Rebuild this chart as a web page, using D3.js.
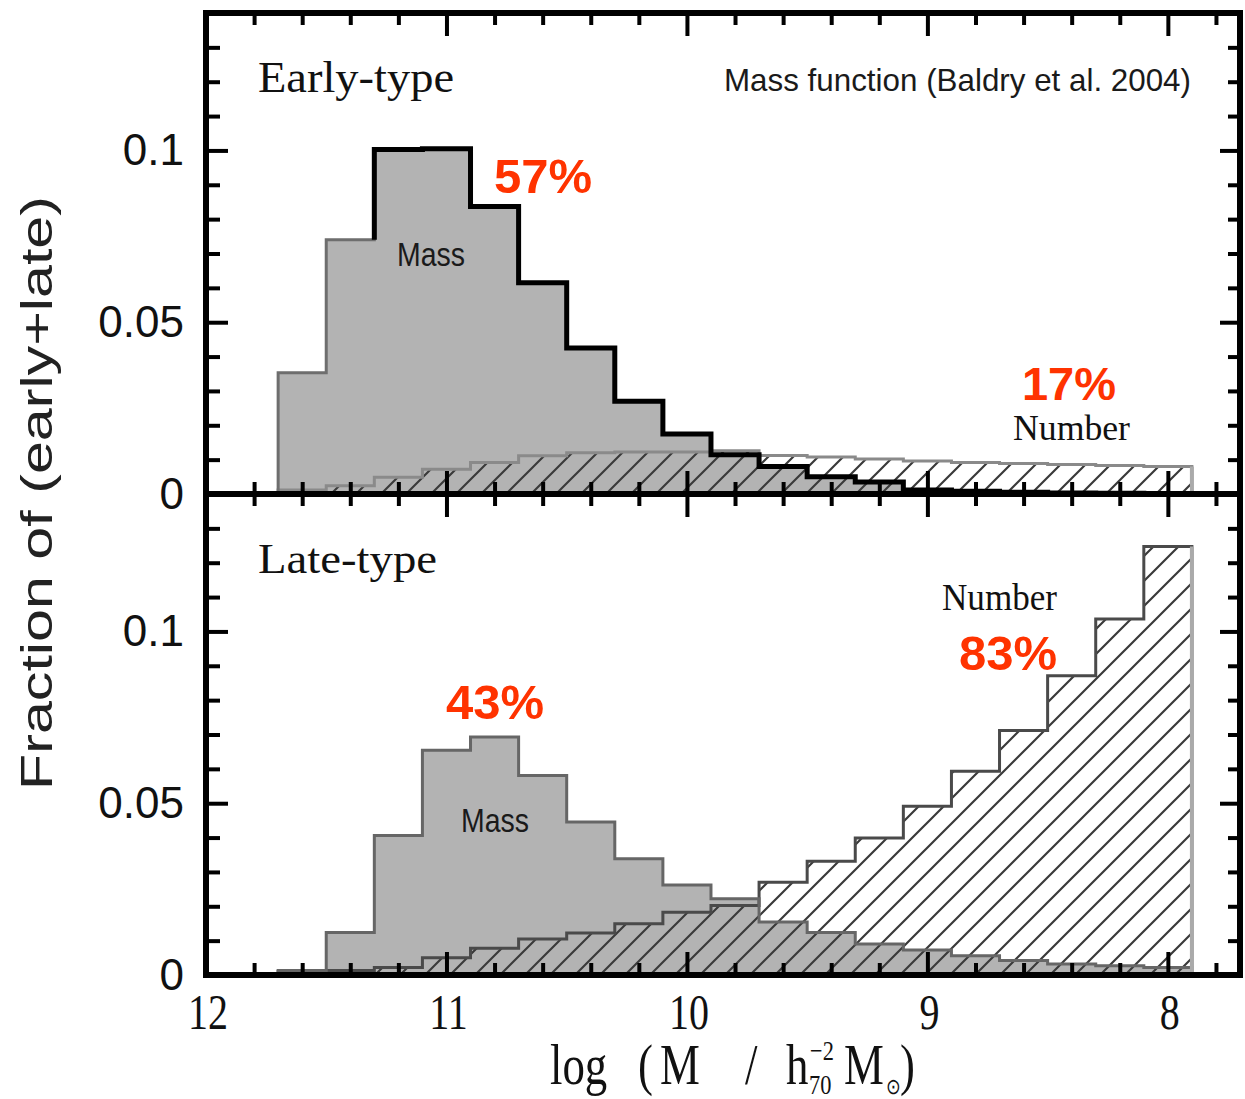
<!DOCTYPE html>
<html>
<head>
<meta charset="utf-8">
<script src="https://cdn.jsdelivr.net/npm/d3@7"></script>
<style>
  body { margin: 0; background: #fff; }
</style>
</head>
<body>
<div id="chart"></div>
<script>
// Bin centres in log M (bins are 0.2 dex wide)
const binCenters = [11.6, 11.4, 11.2, 11.0, 10.8, 10.6, 10.4, 10.2, 10.0, 9.8,
                    9.6, 9.4, 9.2, 9.0, 8.8, 8.6, 8.4, 8.2, 8.0];
const binWidth = 0.2;

// Fractions of (early+late)
const earlyMass = [0.0353, 0.0740, 0.1003, 0.1005, 0.0837, 0.0615, 0.0425, 0.0270, 0.0175, 0.0114,
                   0.0080, 0.0050, 0.0035, 0.0012, 0.0008, 0.0005, 0.0003, 0.0002, 0.0001];
const earlyNumber = [0.0012, 0.0024, 0.0049, 0.0072, 0.0092, 0.0111, 0.0120, 0.0122, 0.0122, 0.0126,
                     0.0112, 0.0108, 0.0102, 0.0096, 0.0092, 0.0089, 0.0086, 0.0083, 0.0080];
const lateMass = [0.0013, 0.0124, 0.0406, 0.0654, 0.0693, 0.0581, 0.0445, 0.0338, 0.0262, 0.0222,
                  0.0154, 0.0124, 0.0090, 0.0073, 0.0056, 0.0042, 0.0032, 0.0027, 0.0022];
const lateNumber = [0.0010, 0.0013, 0.0022, 0.0050, 0.0078, 0.0105, 0.0122, 0.0149, 0.0183, 0.0202,
                    0.0270, 0.0331, 0.0399, 0.0491, 0.0593, 0.0712, 0.0871, 0.1036, 0.1247];

const xTickValues = [12, 11, 10, 9, 8];
const yTickValues = [0, 0.05, 0.1];
const yTickLabels = ["0", "0.05", "0.1"];

const panelNames = ["Early-type", "Late-type"];
const massShares = ["57%", "43%"];
const numberShares = ["17%", "83%"];

// Layout
const W = 1245, H = 1099;
const frame = {left: 206, right: 1240, top: 13, mid: 494, bottom: 975};

const svg = d3.select("#chart").append("svg")
    .attr("width", W)
    .attr("height", H);

const x = d3.scaleLinear().domain([12, 7.7]).range([frame.left, frame.right]);
const yTop = d3.scaleLinear().domain([0, 0.14]).range([frame.mid, frame.top]);
const yBot = d3.scaleLinear().domain([0, 0.14]).range([frame.bottom, frame.mid]);

// Hatch pattern for the number histograms
const pat = svg.append("defs").append("pattern")
    .attr("id", "hatch")
    .attr("patternUnits", "userSpaceOnUse")
    .attr("width", 25)
    .attr("height", 25);
pat.append("path")
    .attr("d", "M-3,28 L28,-3 M-3,3 L3,-3 M22,28 L28,22")
    .attr("stroke", "#3a3a3a")
    .attr("stroke-width", 2.2);

// step outline points: baseline, left edge of every bin, right end, baseline
function stepPoints(vals) {
    const pts = [[binCenters[0] + binWidth / 2, 0]];
    vals.forEach((v, i) => pts.push([binCenters[i] + binWidth / 2, v]));
    const end = binCenters[binCenters.length - 1] - binWidth / 2;
    pts.push([end, vals[vals.length - 1]]);
    pts.push([end, 0]);
    return pts;
}

function drawPanel(idx, y, mass, number) {
    const g = svg.append("g");
    const line = d3.line().x(d => x(d[0])).y(d => y(d[1])).curve(d3.curveStepAfter);
    const area = d3.area().x(d => x(d[0])).y0(y(0)).y1(d => y(d[1])).curve(d3.curveStepAfter);

    // mass: grey filled histogram
    g.append("path")
        .attr("d", area(stepPoints(mass)))
        .attr("fill", "#b3b3b3");

    // number: hatched histogram on top
    g.append("path")
        .attr("d", area(stepPoints(number)))
        .attr("fill", "url(#hatch)");

    g.append("path")
        .attr("d", line(stepPoints(number)))
        .attr("fill", "none")
        .attr("stroke", idx === 0 ? "#8a8a8a" : "#4a4a4a")
        .attr("stroke-width", 3);

    g.append("path")
        .attr("d", line(stepPoints(mass)))
        .attr("fill", "none")
        .attr("stroke", idx === 0 ? "#6e6e6e" : "#666")
        .attr("stroke-width", 3);

    // early-type mass function drawn heavy black from the peak onwards
    if (idx === 0) {
        const pts = stepPoints(mass).slice(3);
        pts.unshift([binCenters[2] + binWidth / 2, mass[1]]);
        g.append("path")
            .attr("d", line(pts))
            .attr("fill", "none")
            .attr("stroke", "#000")
            .attr("stroke-width", 5);
    }

    // light right edge of the number histogram
    const end = binCenters[binCenters.length - 1] - binWidth / 2;
    g.append("line")
        .attr("x1", x(end)).attr("x2", x(end))
        .attr("y1", y(0)).attr("y2", y(number[number.length - 1]))
        .attr("stroke", "#aaa")
        .attr("stroke-width", 4);
}

drawPanel(0, yTop, earlyMass, earlyNumber);
drawPanel(1, yBot, lateMass, lateNumber);

// Ticks on all four sides of both panels
const xMinor = d3.range(1, 22).map(i => +(12 - i * 0.2).toFixed(1)).filter(v => !xTickValues.includes(v));
const xMajor = xTickValues.filter(v => v !== 12);
const yMinor = d3.range(1, 14).map(i => +(i * 0.01).toFixed(2)).filter(v => v !== 0.05 && v !== 0.1);
const yMajor = [0.05, 0.1];

function styleAxis(sel) {
    sel.select(".domain").remove();
    sel.selectAll(".tick line").attr("stroke", "#000").attr("stroke-width", 4);
    sel.selectAll(".tick text").remove();
}

function addXTicks(ypos, axisFn) {
    [[xMinor, 12], [xMajor, 23]].forEach(([vals, len]) => {
        svg.append("g")
            .attr("transform", `translate(0,${ypos})`)
            .call(axisFn(x).tickValues(vals).tickSize(len).tickFormat(""))
            .call(styleAxis);
    });
}

function addYTicks(y) {
    [[yMinor, 14], [yMajor, 22]].forEach(([vals, len]) => {
        svg.append("g")
            .attr("transform", `translate(${frame.left},0)`)
            .call(d3.axisRight(y).tickValues(vals).tickSize(len).tickFormat(""))
            .call(styleAxis);
        svg.append("g")
            .attr("transform", `translate(${frame.right},0)`)
            .call(d3.axisLeft(y).tickValues(vals).tickSize(len - 2).tickFormat(""))
            .call(styleAxis);
    });
}

addXTicks(frame.top, d3.axisBottom);
addXTicks(frame.mid, d3.axisTop);
addXTicks(frame.mid, d3.axisBottom);
addXTicks(frame.bottom, d3.axisTop);
addYTicks(yTop);
addYTicks(yBot);

// Frame
svg.append("rect")
    .attr("x", frame.left).attr("y", frame.top)
    .attr("width", frame.right - frame.left)
    .attr("height", frame.bottom - frame.top)
    .attr("fill", "none")
    .attr("stroke", "#000")
    .attr("stroke-width", 6);
svg.append("line")
    .attr("x1", frame.left).attr("x2", frame.right)
    .attr("y1", frame.mid).attr("y2", frame.mid)
    .attr("stroke", "#000")
    .attr("stroke-width", 6);

// y tick labels
[yTop, yBot].forEach(y => {
    svg.append("g").selectAll("text")
        .data(yTickValues)
        .join("text")
        .attr("x", 184)
        .attr("y", d => y(d) + 15)
        .attr("text-anchor", "end")
        .style("font-family", "'Liberation Sans', Arial, sans-serif")
        .style("font-size", "44px")
        .attr("fill", "#111")
        .text((d, i) => yTickLabels[i]);
});

// x tick labels (condensed serif)
svg.append("g").selectAll("text")
    .data(xTickValues)
    .join("text")
    .attr("transform", d => `translate(${x(d) + 2},1029) scale(0.8,1)`)
    .attr("text-anchor", "middle")
    .style("font-family", "'Liberation Serif', 'Times New Roman', serif")
    .style("font-size", "50px")
    .attr("fill", "#111")
    .text(d => d);

// x axis title: log (M / h_70^-2 M_sun)
const titleParts = [
    {t: "log", x: 550, y: 1084, s: 56},
    {t: "(", x: 638, y: 1084, s: 56},
    {t: "M", x: 660, y: 1084, s: 56},
    {t: "/", x: 745, y: 1084, s: 56},
    {t: "h", x: 786, y: 1084, s: 56},
    {t: "\u22122", x: 810, y: 1060, s: 28},
    {t: "70", x: 809, y: 1094, s: 28},
    {t: "M", x: 844, y: 1084, s: 56},
    {t: "\u2299", x: 886, y: 1094, s: 22},
    {t: ")", x: 900, y: 1084, s: 56}
];
svg.append("g").selectAll("text")
    .data(titleParts)
    .join("text")
    .attr("transform", d => `translate(${d.x},${d.y}) scale(0.8,1)`)
    .style("font-family", "'Liberation Serif', 'Times New Roman', serif")
    .style("font-size", d => d.s + "px")
    .attr("fill", "#111")
    .text(d => d.t);

// y axis title
svg.append("text")
    .attr("transform", "translate(52,493) rotate(-90)")
    .attr("text-anchor", "middle")
    .attr("textLength", 594)
    .attr("lengthAdjust", "spacingAndGlyphs")
    .style("font-family", "'Liberation Sans', Arial, sans-serif")
    .style("font-size", "44px")
    .attr("fill", "#222")
    .text("Fraction of (early+late)");

// Panel names and annotations
const serif = "'Liberation Serif', 'Times New Roman', serif";
const sans = "'Liberation Sans', Arial, sans-serif";
function label(txt, xPos, yPos, opts) {
    const t = svg.append("text")
        .attr("x", xPos)
        .attr("y", yPos)
        .attr("text-anchor", opts.anchor || "start")
        .style("font-family", opts.font)
        .style("font-size", opts.size + "px")
        .style("font-weight", opts.weight || "normal")
        .attr("fill", opts.color || "#111")
        .text(txt);
    if (opts.len) t.attr("textLength", opts.len).attr("lengthAdjust", "spacingAndGlyphs");
    return t;
}

label(panelNames[0], 258, 92, {font: serif, size: 45, len: 196});
label(panelNames[1], 258, 573, {font: serif, size: 43, len: 179});
label("Mass function (Baldry et al. 2004)", 724, 91, {font: sans, size: 32, len: 467, color: "#1a1a1a"});

label("Mass", 397, 266, {font: sans, size: 34, len: 68, color: "#1a1a1a"});
label("Mass", 461, 832, {font: sans, size: 34, len: 68, color: "#1a1a1a"});
label("Number", 1013, 440, {font: serif, size: 36, len: 117});
label("Number", 942, 610, {font: serif, size: 38, len: 115});

const red = "#ff3300";
label(massShares[0], 543, 193, {font: sans, size: 49, weight: "bold", anchor: "middle", color: red});
label(numberShares[0], 1069, 400, {font: sans, size: 47, weight: "bold", anchor: "middle", color: red});
label(massShares[1], 495, 719, {font: sans, size: 49, weight: "bold", anchor: "middle", color: red});
label(numberShares[1], 1008, 670, {font: sans, size: 49, weight: "bold", anchor: "middle", color: red});
</script>
</body>
</html>
